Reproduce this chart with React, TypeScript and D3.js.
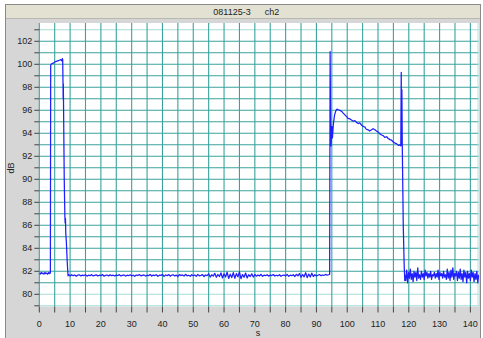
import React, { useEffect, useRef } from 'react';
import * as d3 from 'd3';

// pre-pulse baseline, first pulse and its fall (s, dB)
const leadT = [0, 0.3, 0.6, 0.9, 1.2, 1.5, 1.8, 2.1, 2.4, 2.7, 3.0, 3.3, 3.6, 3.7, 3.8, 4.1, 4.5, 5.0, 5.5, 6.0, 6.5, 7.0, 7.3, 7.5, 7.6, 7.7, 7.75, 7.8, 7.85, 8.1, 8.3, 8.4, 8.5, 8.6, 8.8, 9.0, 9.2, 9.35];
const leadDb = [81.85, 81.75, 81.9, 81.8, 81.85, 81.75, 81.9, 81.8, 81.85, 81.75, 81.9, 81.8, 81.85, 99.9, 100.0, 100.05, 100.1, 100.2, 100.25, 100.3, 100.35, 100.4, 100.3, 100.5, 100.4, 98.4, 97.0, 98.3, 97.1, 90.0, 86.8, 86.2, 86.6, 85.3, 84.5, 83.2, 82.2, 81.6];

// quiet baseline, sampled every 0.5 s
const quietStart = 9.5;
const quietStep = 0.5;
const quietDb = [
  81.72, 81.60, 81.70, 81.62, 81.68, 81.58, 81.66, 81.70, 81.60, 81.67,
  81.63, 81.70, 81.58, 81.66, 81.62, 81.71, 81.60, 81.65, 81.69, 81.59,
  81.66, 81.62, 81.72, 81.58, 81.65, 81.68, 81.60, 81.70, 81.62, 81.66,
  81.59, 81.67, 81.63, 81.71, 81.60, 81.64, 81.69, 81.58, 81.66, 81.62,
  81.70, 81.61, 81.66, 81.57, 81.68, 81.63, 81.72, 81.60, 81.65, 81.69,
  81.58, 81.66, 81.62, 81.73, 81.59, 81.67, 81.63, 81.70, 81.57, 81.66,
  81.64, 81.74, 81.56, 81.68, 81.62, 81.72, 81.58, 81.66, 81.70, 81.60,
  81.67, 81.55, 81.71, 81.63, 81.69, 81.58, 81.74, 81.61, 81.66, 81.57,
  81.70, 81.62, 81.68, 81.56, 81.73, 81.60, 81.65, 81.71, 81.55, 81.68,
  81.62, 81.78, 81.50, 81.70, 81.58, 81.82, 81.48, 81.72, 81.55, 81.86,
  81.42, 81.78, 81.50, 81.92, 81.38, 81.75, 81.46, 81.88, 81.40, 81.80,
  81.52, 81.95, 81.36, 81.72, 81.48, 81.85, 81.42, 81.70, 81.55, 81.78,
  81.50, 81.72, 81.58, 81.68, 81.60, 81.74, 81.57, 81.66, 81.62, 81.70,
  81.58, 81.67, 81.63, 81.72, 81.59, 81.66, 81.61, 81.70, 81.57, 81.65,
  81.68, 81.60, 81.73, 81.56, 81.66, 81.62, 81.70, 81.55, 81.74, 81.60,
  81.80, 81.48, 81.72, 81.52, 81.88, 81.45, 81.76, 81.50, 81.84, 81.55,
  81.70, 81.60, 81.66, 81.72, 81.62, 81.68, 81.65, 81.73, 81.66, 81.70,
];

// second burst: spike, slow decay, spike, drop
const burstT = [94.3, 94.45, 94.6, 94.75, 95.0, 95.2, 95.5, 95.9, 96.3, 96.7, 97.1, 97.6, 98.2, 98.7, 99.25, 99.8, 100.3, 100.9, 101.4, 102.0, 102.5, 103.0, 103.6, 104.1, 104.7, 105.2, 105.7, 106.2, 106.8, 107.3, 107.9, 108.4, 109.0, 109.5, 110.1, 110.6, 111.2, 111.7, 112.2, 112.8, 113.3, 113.9, 114.4, 115.0, 115.5, 116.0, 116.6, 117.1, 117.4, 117.55, 117.65, 117.75, 117.9, 118.2, 118.5, 118.7, 118.85];
const burstDb = [81.75, 101.1, 95.0, 92.9, 94.6, 93.6, 94.8, 95.6, 95.95, 96.1, 96.05, 96.0, 95.9, 95.75, 95.6, 95.45, 95.3, 95.25, 95.15, 95.05, 95.1, 94.95, 94.85, 94.9, 94.7, 94.6, 94.55, 94.35, 94.3, 94.2, 94.3, 94.4, 94.3, 94.2, 94.1, 93.95, 93.85, 93.8, 93.65, 93.7, 93.55, 93.45, 93.4, 93.25, 93.15, 93.1, 92.95, 93.0, 92.9, 99.3, 93.0, 97.8, 92.6, 86.0, 82.5, 81.2, 81.6];

// noisy tail, sampled every 0.3 s
const tailStart = 119.0;
const tailStep = 0.3;
const tailDb = [
  81.2, 82.1, 81.0, 81.9, 81.4, 82.2, 81.3, 81.8, 81.1, 82.0,
  81.5, 81.9, 81.2, 82.3, 81.4, 81.7, 81.3, 82.0, 81.5, 81.8,
  81.3, 82.1, 81.6, 81.9, 81.4, 81.8, 81.5, 82.0, 81.3, 81.7,
  81.6, 81.9, 81.4, 81.8, 81.5, 82.1, 81.3, 81.9, 81.6, 81.8,
  81.4, 82.0, 81.5, 81.7, 81.3, 82.2, 81.4, 81.9, 81.2, 82.1,
  81.5, 82.3, 81.3, 81.8, 81.6, 82.0, 81.2, 81.9, 81.4, 82.2,
  81.3, 81.8, 81.1, 82.1, 81.5, 81.9, 81.0, 82.0, 81.4, 81.8,
  81.2, 82.1, 81.5, 81.9, 81.1, 81.8, 81.3, 82.0, 81.0, 81.7,
];

const xTicks = [0, 10, 20, 30, 40, 50, 60, 70, 80, 90, 100, 110, 120, 130, 140];
const yTicks = [80, 82, 84, 86, 88, 90, 92, 94, 96, 98, 100, 102];
const lightRows = [79, 80, 103];
const titleName = '081125-3';
const titleChannel = 'ch2';

const W = 483;
const H = 338;

const App = () => {
  const svgRef = useRef<SVGSVGElement>(null);

  useEffect(() => {
    const svg = d3.select(svgRef.current);
    svg.selectAll('*').remove();

    const left = 39.3, right = 479, top = 23, bottom = 306.5;
    const x = d3.scaleLinear().domain([0, 142.8]).range([left, right]);
    const y = d3.scaleLinear().domain([78.94, 103.59]).range([bottom, top]);

    const font = 'Liberation Sans, Arial, sans-serif';

    // window frame
    svg.append('rect').attr('x', 0).attr('y', 0).attr('width', W).attr('height', H).attr('fill', '#fff');
    svg.append('rect').attr('x', 5.5).attr('y', 4.5).attr('width', 475).attr('height', 340)
      .attr('fill', '#d6d6d6').attr('stroke', '#8a8a8a');
    svg.append('rect').attr('x', 6).attr('y', 5).attr('width', 474).attr('height', 13)
      .attr('fill', '#e2e1d2');
    svg.append('line').attr('x1', 6).attr('x2', 480).attr('y1', 18.5).attr('y2', 18.5).attr('stroke', '#b8b8b0');

    svg.append('text').attr('x', 232).attr('y', 15).attr('text-anchor', 'middle')
      .attr('font-family', font).attr('font-size', 9).attr('fill', '#222').text(titleName);
    svg.append('text').attr('x', 272).attr('y', 15).attr('text-anchor', 'middle')
      .attr('font-family', font).attr('font-size', 9).attr('fill', '#222').text(titleChannel);

    // plot background
    svg.append('rect').attr('x', left).attr('y', top).attr('width', right - left).attr('height', bottom - top)
      .attr('fill', '#fff');

    // grid
    const grid = svg.append('g');
    grid.selectAll('.hg').data(d3.range(79, 104)).enter().append('line')
      .attr('x1', left).attr('x2', right)
      .attr('y1', d => y(d)).attr('y2', d => y(d))
      .attr('stroke', d => (lightRows.includes(d) ? '#a6dcd8' : '#3aa39d')).attr('stroke-width', 1.1);
    grid.selectAll('.vg').data(d3.range(0, 145, 5)).enter().append('line')
      .attr('x1', d => x(d)).attr('x2', d => x(d))
      .attr('y1', top).attr('y2', bottom)
      .attr('stroke', '#3aa39d').attr('stroke-width', 1.1);
    grid.append('line').attr('x1', right - 1).attr('x2', right - 1).attr('y1', top).attr('y2', bottom)
      .attr('stroke', '#b8e0dc');

    // series
    const pts: [number, number][] = [];
    leadT.forEach((t, i) => pts.push([t, leadDb[i]]));
    quietDb.forEach((v, i) => pts.push([quietStart + i * quietStep, v]));
    burstT.forEach((t, i) => pts.push([t, burstDb[i]]));
    tailDb.forEach((v, i) => pts.push([tailStart + i * tailStep, v]));

    svg.append('clipPath').attr('id', 'plotClip').append('rect')
      .attr('x', left).attr('y', top).attr('width', right - left).attr('height', bottom - top);

    const line = d3.line<[number, number]>().x(d => x(d[0])).y(d => y(d[1]));
    svg.append('path').datum(pts).attr('d', line).attr('clip-path', 'url(#plotClip)')
      .attr('fill', 'none').attr('stroke', '#1e1eff').attr('stroke-width', 1.25)
      .attr('stroke-linejoin', 'round');

    // y axis
    const yAxis = svg.append('g');
    yAxis.selectAll('.yt').data(d3.range(79, 104)).enter().append('line')
      .attr('x1', left - 5).attr('x2', left).attr('y1', d => y(d)).attr('y2', d => y(d))
      .attr('stroke', '#444');
    yAxis.selectAll('.yl').data(yTicks).enter().append('text')
      .attr('x', left - 7).attr('y', d => y(d)).attr('dy', '0.35em').attr('text-anchor', 'end')
      .attr('font-family', font).attr('font-size', 9).attr('fill', '#222').text(d => d);

    // x axis
    const xAxis = svg.append('g');
    xAxis.selectAll('.xt').data(d3.range(0, 145, 5)).enter().append('line')
      .attr('x1', d => x(d)).attr('x2', d => x(d)).attr('y1', bottom).attr('y2', bottom + 6)
      .attr('stroke', '#444');
    xAxis.selectAll('.xl').data(xTicks).enter().append('text')
      .attr('x', d => x(d)).attr('y', 327).attr('text-anchor', 'middle')
      .attr('font-family', font).attr('font-size', 9).attr('fill', '#222').text(d => d);

    svg.append('text').attr('x', 258).attr('y', 336).attr('text-anchor', 'middle')
      .attr('font-family', font).attr('font-size', 9).attr('fill', '#222').text('s');
    svg.append('text').attr('transform', 'translate(14,168) rotate(-90)').attr('text-anchor', 'middle')
      .attr('font-family', font).attr('font-size', 9).attr('fill', '#222').text('dB');
  }, []);

  return (
    <div style={{ position: 'fixed', left: 0, top: 0 }}>
      <svg ref={svgRef} width={W} height={H} style={{ display: 'block' }}></svg>
    </div>
  );
};

export default App;
